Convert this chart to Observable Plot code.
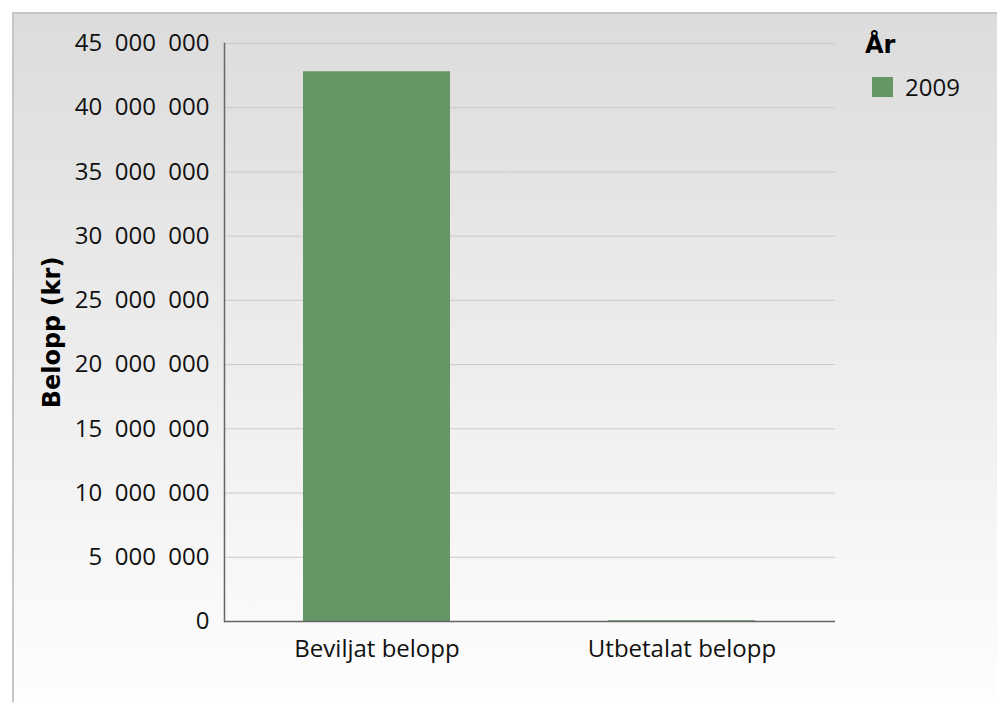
<!DOCTYPE html>
<html><head><meta charset="utf-8">
<script src="https://cdn.jsdelivr.net/npm/d3@7"></script>
<script src="https://cdn.jsdelivr.net/npm/@observablehq/plot@0.6"></script>
<style>
body{margin:0;background:#fff;}
#wrap{position:relative;width:997px;height:702px;overflow:hidden;background:#fff;}
#panel{position:absolute;left:12px;top:12px;right:-4px;bottom:-4px;border-left:2px solid #c6c6c6;border-top:2px solid #c6c6c6;background:linear-gradient(#dcdcdc,#fefefe);}
#chart{position:absolute;left:0;top:0;}
#legend{position:absolute;left:865px;top:30px;}
#legend .t{font-family:"DejaVu Sans";font-weight:bold;font-size:24px;line-height:30px;color:#000;}
#legend .row{display:flex;align-items:center;margin-top:14px;margin-left:7px;font-family:"Open Sans";font-size:24px;line-height:26px;color:#111;}
#legend .sw{width:21px;height:20px;margin-right:12px;}
</style></head>
<body>
<div id="wrap"><div id="panel"></div><div id="chart"></div>
<div id="legend"><div class="t">År</div><div class="row"><span class="sw" id="sw"></span><span id="yr"></span></div></div>
</div>
<script>
const categories = ["Beviljat belopp", "Utbetalat belopp"];
const values = [42800000, 60000];
const years = ["2009"];
const colors = ["#659766"];
const yTicks = [0, 5000000, 10000000, 15000000, 20000000, 25000000, 30000000, 35000000, 40000000, 45000000];
const yLabel = "Belopp (kr)";

const data = categories.map((c, i) => ({category: c, value: values[i], year: years[0]}));
const fmt = d => d3.format(",")(d).replace(/,/g, "\u00a0\u00a0");

const chart = Plot.plot({
  width: 997,
  height: 702,
  marginLeft: 224,
  marginRight: 162,
  marginTop: 43,
  marginBottom: 81,
  style: {background: "transparent", fontFamily: "Open Sans", fontSize: "24px", color: "#111", overflow: "visible"},
  x: {domain: categories, paddingInner: 0.517, paddingOuter: 0.2585, label: null},
  y: {domain: [0, 45000000], label: null},
  color: {domain: years, range: colors},
  marks: [
    Plot.gridY(yTicks, {stroke: "#c9c9c9", strokeOpacity: 1}),
    Plot.barY(data, {x: "category", y: "value", fill: "year"}),
    Plot.axisY(yTicks, {tickSize: 0, tickPadding: 15, tickFormat: fmt, label: null}),
    Plot.axisX({tickSize: 0, tickPadding: 18, label: null}),
    Plot.ruleY([0], {stroke: "#666", strokeWidth: 1.5}),
    Plot.frame({anchor: "left", stroke: "#666", strokeWidth: 1.5}),
    Plot.text([yLabel], {frameAnchor: "left", textAnchor: "middle", dx: -172, rotate: -90, fontWeight: "bold", fontFamily: "DejaVu Sans", fontSize: 24, fill: "#000"})
  ]
});
document.getElementById("chart").appendChild(chart);
document.getElementById("sw").style.background = colors[0];
document.getElementById("yr").textContent = years[0];
</script>
</body></html>
